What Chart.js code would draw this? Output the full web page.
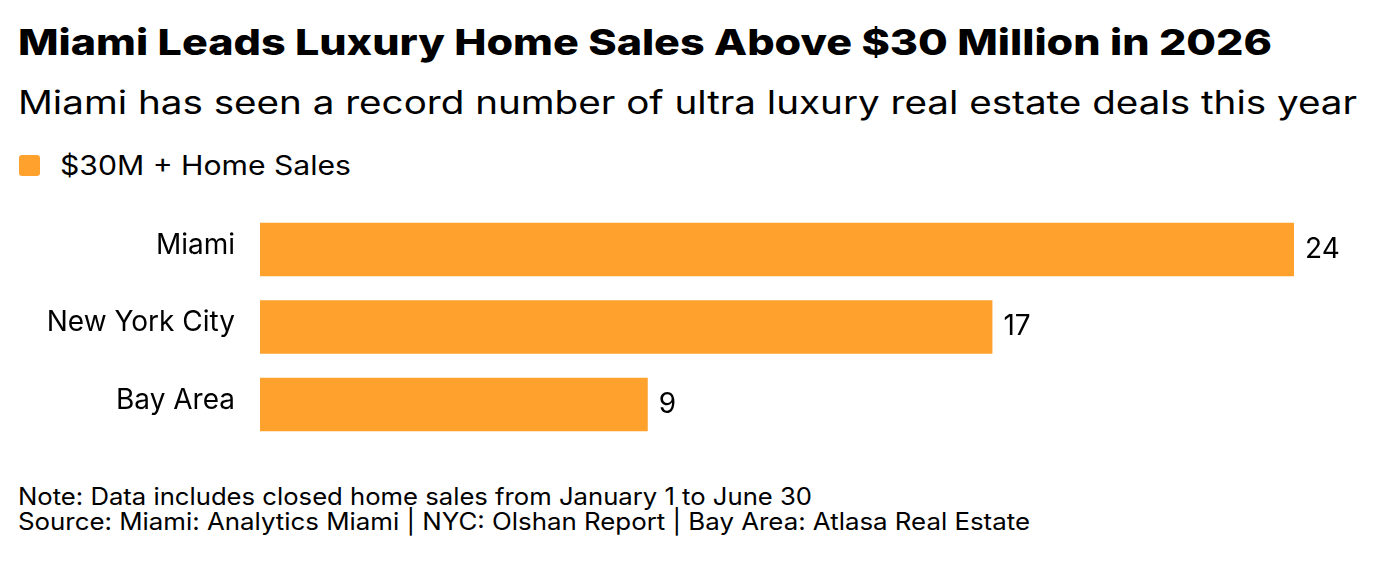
<!DOCTYPE html>
<html>
<head>
<meta charset="utf-8">
<script src="https://cdn.jsdelivr.net/npm/chart.js@4.4.1/dist/chart.umd.min.js"></script>
<style>
  html, body { margin: 0; padding: 0; background: #fff; }
  body { width: 1376px; height: 568px; position: relative; overflow: hidden; font-family: Inter, "Liberation Sans", sans-serif; color: #000; }
  .t { position: absolute; left: 18px; white-space: nowrap; line-height: 1; transform-origin: 0 0; }
  #title { font-weight: 800; font-size: 36px; top: 24px; }
  #subtitle { font-weight: 400; font-size: 32px; top: 87px; }
  #legendSw { position: absolute; left: 19px; top: 155px; width: 21px; height: 21px; border-radius: 3px; background: #ffa12d; }
  #legendText { font-size: 27px; top: 152px; left: 60px; }
  #note { font-size: 24px; top: 485px; }
  #source { font-size: 24px; top: 510px; }
  #c { position: absolute; left: 0; top: 210px; }
</style>
</head>
<body>
<div class="t" id="title" data-w="1254">Miami Leads Luxury Home Sales Above $30 Million in 2026</div>
<div class="t" id="subtitle" data-w="1339">Miami has seen a record number of ultra luxury real estate deals this year</div>
<div id="legendSw"></div>
<div class="t" id="legendText" data-w="291">$30M + Home Sales</div>
<div class="t" id="note" data-w="794">Note: Data includes closed home sales from January 1 to June 30</div>
<div class="t" id="source" data-w="1012">Source: Miami: Analytics Miami | NYC: Olshan Report | Bay Area: Atlasa Real Estate</div>
<canvas id="c" width="1376" height="234" style="width:1376px;height:234px"></canvas>
<script>
// ---- data ----
const categories = ["Miami", "New York City", "Bay Area"];
const seriesName = "$30M + Home Sales";
const salesValues = [24, 17, 9];

// ---- stretch header/footer text horizontally to the reference widths ----
document.querySelectorAll('[data-w]').forEach(el => {
  const target = parseFloat(el.dataset.w);
  const r = document.createRange();
  r.selectNodeContents(el);
  const w = r.getBoundingClientRect().width;
  el.style.transform = 'scaleX(' + (target / w).toFixed(4) + ')';
});

const BAR_COLOR = '#ffa12d';
const FONT_FAMILY = 'Inter, "Liberation Sans", sans-serif';

const valueLabels = {
  id: 'valueLabels',
  afterDatasetsDraw(chart) {
    const ctx = chart.ctx;
    const meta = chart.getDatasetMeta(0);
    ctx.save();
    ctx.font = `400 28px ${FONT_FAMILY}`;
    ctx.fillStyle = '#000';
    ctx.textAlign = 'left';
    ctx.textBaseline = 'middle';
    meta.data.forEach((bar, i) => {
      ctx.fillText(String(chart.data.datasets[0].data[i]), bar.x + 11, bar.y);
    });
    ctx.restore();
  }
};

new Chart(document.getElementById('c'), {
  type: 'bar',
  data: {
    labels: categories,
    datasets: [{
      label: seriesName,
      data: salesValues,
      backgroundColor: BAR_COLOR,
      borderWidth: 0,
      categoryPercentage: 1,
      barPercentage: 54 / 78
    }]
  },
  options: {
    indexAxis: 'y',
    responsive: false,
    devicePixelRatio: 1,
    animation: false,
    layout: { autoPadding: false, padding: { left: 0, right: 82, top: 0, bottom: 0 } },
    plugins: { legend: { display: false }, tooltip: { enabled: false } },
    scales: {
      x: { display: false, min: 0, max: 24 },
      y: {
        grid: { display: false, drawTicks: true, tickLength: 25 },
        border: { display: false },
        ticks: { color: '#000', font: { family: FONT_FAMILY, size: 28, weight: '400', lineHeight: 0.05 }, padding: 0, labelOffset: -4 },
        afterFit(scale) { scale.width = 260; }
      }
    }
  },
  plugins: [valueLabels]
});
</script>
</body>
</html>
